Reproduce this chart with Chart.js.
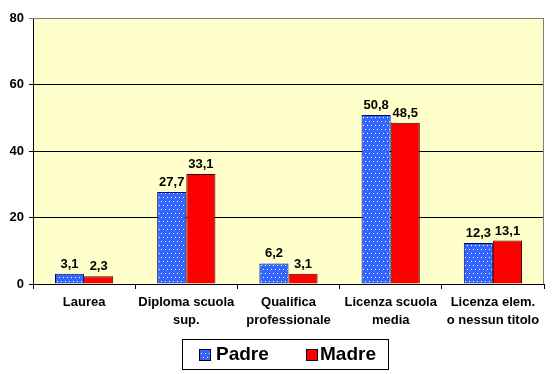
<!DOCTYPE html>
<html>
<head>
<meta charset="utf-8">
<script src="https://cdn.jsdelivr.net/npm/chart.js@4/dist/chart.umd.min.js"></script>
<style>
html,body{margin:0;padding:0;background:#fff;}
canvas{display:block;}
</style>
</head>
<body>
<canvas id="c" width="554" height="374"></canvas>
<script>
const categories = [["Laurea"], ["Diploma scuola","sup."], ["Qualifica","professionale"], ["Licenza scuola","media"], ["Licenza elem.","o nessun titolo"]];
const padreValues = [3.1, 27.7, 6.2, 50.8, 12.3];
const madreValues = [2.3, 33.1, 3.1, 48.5, 13.1];
const seriesNames = ["Padre", "Madre"];
const yTicks = [0, 20, 40, 60, 80];

const FONT = "'Liberation Sans', Arial, sans-serif";

function dotPattern() {
  const t = document.createElement('canvas');
  t.width = 8; t.height = 8;
  const g = t.getContext('2d');
  g.fillStyle = '#3366FF';
  g.fillRect(0, 0, 8, 8);
  g.fillStyle = '#FFFFFF';
  [[1,1],[5,1],[3,5],[7,5]].forEach(p => g.fillRect(p[0], p[1], 1, 1));
  return g.createPattern(t, 'repeat');
}
const pat = dotPattern();

const bgPlugin = {
  id: 'bg',
  beforeDraw(chart) {
    const {ctx, chartArea: a} = chart;
    ctx.save();
    ctx.fillStyle = '#FFFFCC';
    ctx.fillRect(a.left, a.top, a.right - a.left, a.bottom - a.top);
    ctx.restore();
  },
  afterDatasetsDraw(chart) {
    const {ctx, chartArea: a} = chart;
    ctx.save();
    ctx.strokeStyle = '#808080';
    ctx.lineWidth = 1;
    ctx.beginPath();
    ctx.moveTo(a.left, a.top + 0.5);
    ctx.lineTo(a.right - 0.5, a.top + 0.5);
    ctx.lineTo(a.right - 0.5, a.bottom);
    ctx.stroke();
    // data labels
    ctx.font = "bold 13px " + FONT;
    ctx.fillStyle = '#000';
    ctx.textAlign = 'center';
    ctx.textBaseline = 'bottom';
    chart.data.datasets.forEach((ds, i) => {
      const meta = chart.getDatasetMeta(i);
      meta.data.forEach((bar, j) => {
        const v = ds.data[j];
        ctx.fillText(v.toFixed(1).replace('.', ','), bar.x, bar.y - 3);
      });
    });
    // legend
    const lx = 182.5, ly = 339.5, lw = 206, lh = 30;
    ctx.strokeStyle = '#000';
    ctx.lineWidth = 1;
    ctx.strokeRect(lx, ly, lw, lh);
    const items = [
      {x: 199, tx: 216, fill: pat, label: chart.data.datasets[0].label},
      {x: 306, tx: 320, fill: '#FF0000', label: chart.data.datasets[1].label}
    ];
    ctx.font = "bold 19px " + FONT;
    ctx.textAlign = 'left';
    ctx.textBaseline = 'middle';
    items.forEach(it => {
      ctx.fillStyle = it.fill;
      ctx.fillRect(it.x, 349, 11, 11);
      ctx.strokeStyle = '#000';
      ctx.strokeRect(it.x + 0.5, 349.5, 11, 11);
      ctx.fillStyle = '#000';
      ctx.fillText(it.label, it.tx, 355);
    });
    ctx.restore();
  }
};

new Chart(document.getElementById('c'), {
  type: 'bar',
  data: {
    labels: categories,
    datasets: [
      {label: seriesNames[0], data: padreValues, backgroundColor: pat, borderColor: '#000080', borderWidth: 1, borderSkipped: 'bottom'},
      {label: seriesNames[1], data: madreValues, backgroundColor: '#FF0000', borderColor: '#400000', borderWidth: 1, borderSkipped: 'bottom'}
    ]
  },
  options: {
    responsive: false,
    animation: false,
    devicePixelRatio: 1,
    layout: {padding: {top: 18, right: 10, left: 0, bottom: 0}},
    datasets: {bar: {categoryPercentage: 0.57, barPercentage: 1}},
    plugins: {legend: {display: false}, tooltip: {enabled: false}},
    scales: {
      x: {
        grid: {drawOnChartArea: false, drawTicks: true, tickLength: 5, color: '#000', offset: true},
        border: {color: '#000', width: 1},
        ticks: {color: '#000', font: {family: FONT, size: 13, weight: 'bold', lineHeight: 1.4}, padding: 4, maxRotation: 0, autoSkip: false},
        afterFit(s) { s.height = 90; }
      },
      y: {
        min: 0, max: 80,
        afterBuildTicks(s) { s.ticks = yTicks.map(v => ({value: v})); },
        grid: {color: ctx => (ctx.tick && ctx.tick.value === 80) ? '#808080' : '#000', tickLength: 4, drawTicks: true},
        border: {color: '#000', width: 1},
        ticks: {color: '#000', font: {family: FONT, size: 13, weight: 'bold'}, padding: 5},
        afterFit(s) { s.width = 33; }
      }
    }
  },
  plugins: [bgPlugin]
});
</script>
</body>
</html>
